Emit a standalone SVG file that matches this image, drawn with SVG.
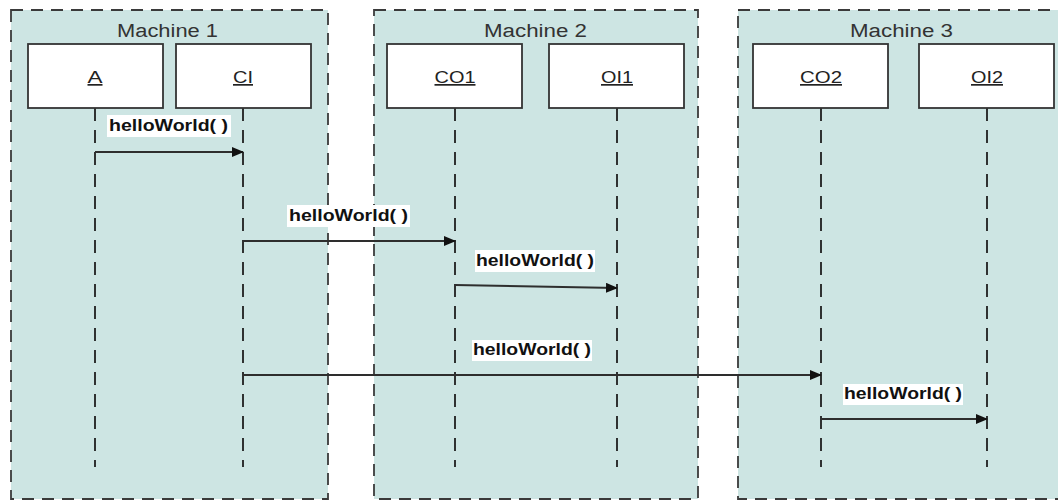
<svg xmlns="http://www.w3.org/2000/svg" width="1058" height="501" viewBox="0 0 1058 501">
<style>
.machine{fill:#cde5e3;stroke:#3a3a3a;stroke-width:1.8;stroke-dasharray:12 8}
.mtitle{font-family:"Liberation Sans",Arial,sans-serif;font-size:18px;fill:#333;text-anchor:middle}
.obj{fill:#fff;stroke:#333;stroke-width:1.8}
.otext{font-family:"Liberation Sans",Arial,sans-serif;font-size:17px;fill:#222;text-anchor:middle;text-decoration:underline}
.life{stroke:#1e1e1e;stroke-width:1.8;stroke-dasharray:13 9;fill:none}
.msg{stroke:#2e2e2e;stroke-width:1.9;fill:none;marker-end:url(#arr)}
.lblbg{fill:#fff}
.lbl{font-family:"Liberation Sans",Arial,sans-serif;font-size:17px;font-weight:bold;fill:#111}
</style>
<defs>
<marker id="arr" markerWidth="12" markerHeight="10" refX="11" refY="5" orient="auto" markerUnits="userSpaceOnUse">
<path d="M0,0 L12,5 L0,10 Z" fill="#111"/>
</marker>
</defs>
<rect width="1058" height="501" fill="#fff"/>
<g id="machine1">
<rect class="machine" x="11" y="10" width="317" height="489"/>
<text class="mtitle" x="167.5" y="37" textLength="101" lengthAdjust="spacingAndGlyphs">Machine 1</text>
</g>
<g id="machine2">
<rect class="machine" x="374" y="10" width="324" height="489"/>
<text class="mtitle" x="535.5" y="37" textLength="103" lengthAdjust="spacingAndGlyphs">Machine 2</text>
</g>
<g id="machine3">
<rect class="machine" x="738" y="10" width="340" height="489"/>
<text class="mtitle" x="901.5" y="37" textLength="103" lengthAdjust="spacingAndGlyphs">Machine 3</text>
</g>
<g id="lifelines">
<line class="life" x1="95" y1="108" x2="95" y2="467"/>
<line class="life" x1="243" y1="108" x2="243" y2="467"/>
<line class="life" x1="455" y1="108" x2="455" y2="467"/>
<line class="life" x1="617" y1="108" x2="617" y2="467"/>
<line class="life" x1="821" y1="108" x2="821" y2="467"/>
<line class="life" x1="987" y1="108" x2="987" y2="467"/>
</g>
<g id="A">
<rect class="obj" x="28" y="44" width="135" height="64"/>
<text class="otext" x="95" y="83" textLength="15" lengthAdjust="spacingAndGlyphs">A</text>
</g>
<g id="CI">
<rect class="obj" x="176" y="44" width="135" height="64"/>
<text class="otext" x="243" y="83" textLength="20" lengthAdjust="spacingAndGlyphs">CI</text>
</g>
<g id="CO1">
<rect class="obj" x="387" y="44" width="135" height="64"/>
<text class="otext" x="455" y="83" textLength="41" lengthAdjust="spacingAndGlyphs">CO1</text>
</g>
<g id="OI1">
<rect class="obj" x="549" y="44" width="135" height="64"/>
<text class="otext" x="617" y="83" textLength="32" lengthAdjust="spacingAndGlyphs">OI1</text>
</g>
<g id="CO2">
<rect class="obj" x="753" y="44" width="135" height="64"/>
<text class="otext" x="821" y="83" textLength="42" lengthAdjust="spacingAndGlyphs">CO2</text>
</g>
<g id="OI2">
<rect class="obj" x="919" y="44" width="135" height="64"/>
<text class="otext" x="987" y="83" textLength="32" lengthAdjust="spacingAndGlyphs">OI2</text>
</g>
<g id="connectors">
<line class="msg" x1="95" y1="152" x2="243" y2="152"/>
<rect class="lblbg" x="107" y="115" width="124" height="22"/>
<text class="lbl" x="109" y="131" textLength="119" lengthAdjust="spacingAndGlyphs">helloWorld( )</text>
<line class="msg" x1="243" y1="241" x2="455" y2="241"/>
<rect class="lblbg" x="287" y="205" width="123" height="22"/>
<text class="lbl" x="289" y="221" textLength="119" lengthAdjust="spacingAndGlyphs">helloWorld( )</text>
<line class="msg" x1="455" y1="285" x2="617" y2="288"/>
<rect class="lblbg" x="475" y="250" width="120" height="22"/>
<text class="lbl" x="476" y="266" textLength="118" lengthAdjust="spacingAndGlyphs">helloWorld( )</text>
<line class="msg" x1="243" y1="375" x2="821" y2="375"/>
<rect class="lblbg" x="472" y="340" width="120" height="21"/>
<text class="lbl" x="473" y="355" textLength="118" lengthAdjust="spacingAndGlyphs">helloWorld( )</text>
<line class="msg" x1="821" y1="419" x2="987" y2="419"/>
<rect class="lblbg" x="843" y="384" width="120" height="21"/>
<text class="lbl" x="844" y="399" textLength="118" lengthAdjust="spacingAndGlyphs">helloWorld( )</text>
</g>
</svg>
